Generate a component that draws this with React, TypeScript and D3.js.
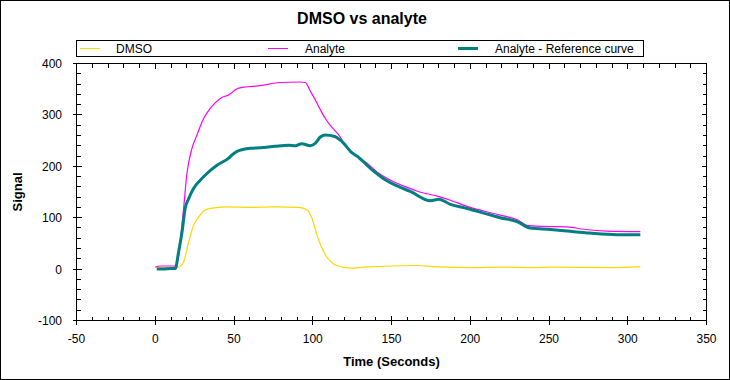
import React from "react";
import * as d3 from "d3";

const dmsoT = [0, 14.8, 18, 21.2, 24.3, 27.5, 30.7, 35, 45.5, 60, 75, 91, 96.4, 99.6, 102.7, 105.9, 109, 113.3, 118.6, 125, 132, 166, 177, 202, 219, 240, 251, 289, 308];
const dmsoV = [3, 4, 14, 53, 85, 101, 113, 118, 121, 120, 121, 120, 115, 98, 66, 40, 23, 10, 4, 2, 4, 7, 5, 3, 4, 3, 4, 3, 5];

const analyteT = [0, 3, 13.1, 18, 20, 23.3, 26.5, 30.7, 35, 41.3, 46.6, 53, 66.7, 79.4, 92, 95.3, 96.4, 98, 100.6, 104, 108, 111, 116.5, 120.7, 127, 134.5, 140.8, 151.4, 160, 166, 179, 187.4, 198, 208.6, 219, 230, 236, 246.7, 261.6, 272, 287, 308];
const analyteV = [4, 6, 6, 118, 183, 235, 261, 293, 313, 332, 339, 352, 357, 363, 364, 363, 359, 349, 335, 315, 293, 280, 261, 241, 222, 206, 189, 170, 159, 152, 142, 134, 122, 113, 105, 96, 85, 83, 82, 77.5, 74, 73];

const refT = [1, 5, 10, 12.7, 14.8, 17, 19, 21.2, 24.3, 28.6, 32.8, 39.2, 46.6, 48.7, 51.9, 60.4, 66.7, 76, 84.7, 89, 93, 98.5, 101.7, 104.8, 108, 114, 118.6, 125, 128, 136.6, 145, 155.7, 162, 174.7, 180, 187.4, 198, 208.6, 219, 230, 238, 251, 261.6, 276, 293, 308];
const refV = [0, 0, 1, 1, 33, 72, 118, 137, 157, 173, 186, 202, 216, 222, 229, 235, 236, 239, 241, 240, 244, 240, 245, 257, 261, 258, 248, 226, 220, 196, 176, 159, 151, 133, 136, 126, 118, 109, 100, 92, 80, 77, 74, 70, 67, 67];

const xTicks = [-50, 0, 50, 100, 150, 200, 250, 300, 350];
const yTicks = [-100, 0, 100, 200, 300, 400];
const legendLabels = ["DMSO", "Analyte", "Analyte - Reference curve"];

const W = 730, H = 380;
const L = 76.5, R = 706.5, T = 63.5, B = 320.5;

export default function App() {
  const x = d3.scaleLinear().domain([-50, 350]).range([L, R]);
  const y = d3.scaleLinear().domain([-100, 400]).range([B, T]);
  const xMinor = d3.range(-50, 351, 10).filter((v) => v % 50 !== 0);
  const yMinor = d3.range(-100, 401, 20).filter((v) => v % 100 !== 0);
  const line = d3.line<[number, number]>().x((d) => x(d[0])).y((d) => y(d[1])).curve(d3.curveMonotoneX);
  const mk = (t: number[], v: number[]) => line(t.map((tt, i) => [tt, v[i]] as [number, number])) || "";
  const font = "'Liberation Sans', Arial, sans-serif";
  const series = [
    { d: mk(dmsoT, dmsoV), c: "#FFD700", w: 1.2 },
    { d: mk(analyteT, analyteV), c: "#FF00FF", w: 1.2 },
    { d: mk(refT, refV), c: "#008080", w: 3 },
  ];
  const legendX = [80, 268, 458];
  return (
    <svg width={W} height={H} style={{ position: "absolute", left: 0, top: 0, background: "#fff" }} fontFamily={font}>
      <rect x={0.5} y={0.5} width={W - 1} height={H - 1} fill="#fff" stroke="#000" />
      <text x={362} y={24} textAnchor="middle" fontSize={16} fontWeight="bold">DMSO vs analyte</text>
      <rect x={76.5} y={40.5} width={567} height={16} fill="#fff" stroke="#000" />
      {legendLabels.map((lab, i) => (
        <g key={lab}>
          <line x1={legendX[i]} x2={legendX[i] + 20} y1={48.5} y2={48.5} stroke={series[i].c} strokeWidth={i === 2 ? 3 : 1} />
          <text x={legendX[i] + (i === 0 ? 36 : 37)} y={53} fontSize={12}>{lab}</text>
        </g>
      ))}
      {series.map((s, i) => (
        <path key={i} d={s.d} fill="none" stroke={s.c} strokeWidth={s.w} strokeLinejoin="round" />
      ))}
      <g stroke="#000" strokeWidth={1} shapeRendering="crispEdges">
        <rect x={L} y={T} width={R - L} height={B - T} fill="none" />
        {xTicks.map((v) => (
          <g key={"xm" + v}>
            <line x1={x(v)} x2={x(v)} y1={B - 5} y2={B + 4} />
            <line x1={x(v)} x2={x(v)} y1={T} y2={T + 5} />
          </g>
        ))}
        {xMinor.map((v) => (
          <g key={"xn" + v}>
            <line x1={x(v)} x2={x(v)} y1={B - 4} y2={B} />
            <line x1={x(v)} x2={x(v)} y1={T} y2={T + 4} />
          </g>
        ))}
        {yTicks.map((v) => (
          <g key={"ym" + v}>
            <line x1={L - 4} x2={L + 5} y1={y(v)} y2={y(v)} />
            <line x1={R - 5} x2={R} y1={y(v)} y2={y(v)} />
          </g>
        ))}
        {yMinor.map((v) => (
          <g key={"yn" + v}>
            <line x1={L} x2={L + 4} y1={y(v)} y2={y(v)} />
            <line x1={R - 4} x2={R} y1={y(v)} y2={y(v)} />
          </g>
        ))}
      </g>
      {xTicks.map((v) => (
        <text key={"xl" + v} x={x(v)} y={343} textAnchor="middle" fontSize={12}>{v}</text>
      ))}
      {yTicks.map((v) => (
        <text key={"yl" + v} x={62} y={y(v) + 4.5} textAnchor="end" fontSize={12}>{v}</text>
      ))}
      <text x={(L + R) / 2} y={366} textAnchor="middle" fontSize={13} fontWeight="bold">Time (Seconds)</text>
      <text transform={`translate(22,${(T + B) / 2}) rotate(-90)`} textAnchor="middle" fontSize={13} fontWeight="bold">Signal</text>
    </svg>
  );
}
